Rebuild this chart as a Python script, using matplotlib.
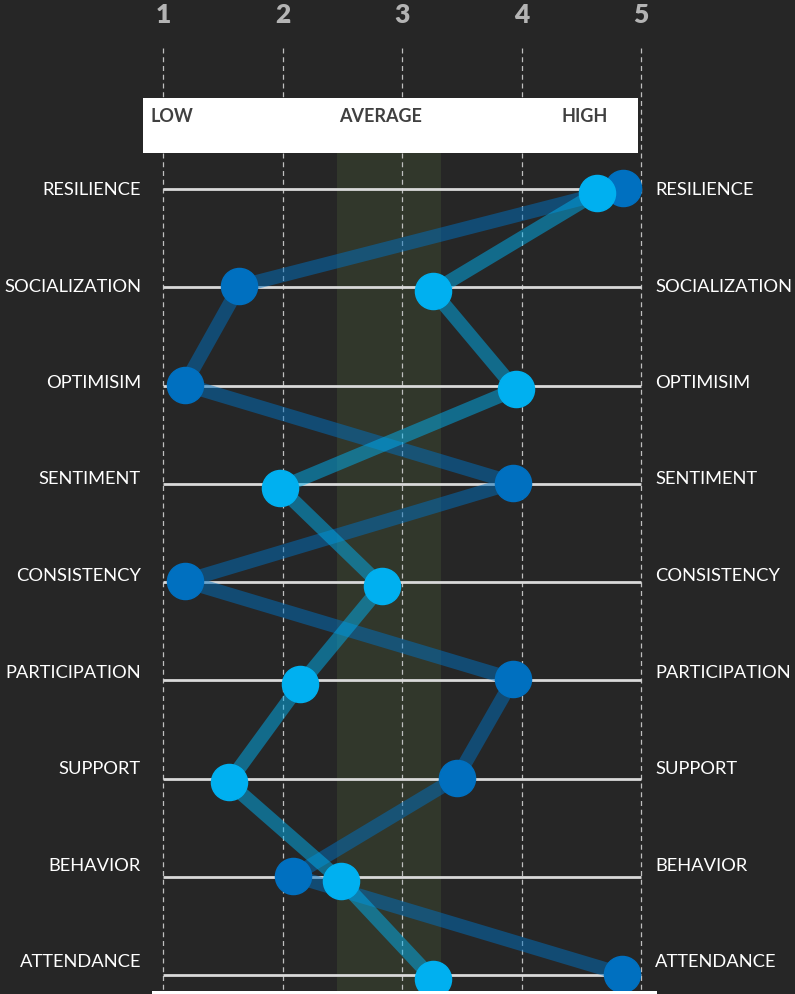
import matplotlib
matplotlib.use("Agg")
import matplotlib.pyplot as plt
from matplotlib.patches import Rectangle

categories = ["RESILIENCE", "SOCIALIZATION", "OPTIMISIM", "SENTIMENT", "CONSISTENCY",
              "PARTICIPATION", "SUPPORT", "BEHAVIOR", "ATTENDANCE"]
series_dark = [4.85, 1.64, 1.18, 3.93, 1.18, 3.93, 3.46, 2.09, 4.84]
series_light = [4.63, 3.26, 3.95, 1.98, 2.83, 2.15, 1.55, 2.49, 3.26]
scale_ticks = [1, 2, 3, 4, 5]
band_labels = ["LOW", "AVERAGE", "HIGH"]
avg_band = (2.46, 3.33)

BG = "#262626"
plt.rcParams['font.family'] = ['Lato', 'DejaVu Sans']

fig = plt.figure(figsize=(7.95, 9.94), dpi=100, facecolor=BG)
ax = fig.add_axes([0, 0, 1, 1])
ax.set_facecolor(BG)
px = 119.5
x0 = 1 - 163 / px
x1 = 1 + (795 - 163) / px
rs = 98.25
y_top = -189 / rs
y_bot = (994 - 189) / rs
ax.set_xlim(x0, x1)
ax.set_ylim(y_bot, y_top)
ax.axis("off")

def ypx(p):
    return (p - 189) / rs

def xpx(p):
    return 1 + (p - 163) / px

# average band
ax.add_patch(Rectangle((avg_band[0], ypx(153)), avg_band[1] - avg_band[0], y_bot - ypx(153),
                       facecolor="#31372b", edgecolor="none", zorder=0))

# vertical dashed grid
for t in scale_ticks:
    ax.plot([t, t], [ypx(48), y_bot], color="#bfbfbf", lw=0.9, ls=(0, (4, 3)), zorder=1)
    ax.text(t, ypx(15), str(t), color="#b4b4b4", fontsize=19, fontweight="heavy",
            ha="center", va="center", zorder=5)

# horizontal lines and labels (labels use a slightly tighter spacing than lines)
n = len(categories)
label_step = 96.5 / rs
for i, c in enumerate(categories):
    ax.plot([1, 5], [i, i], color="#d9d9d9", lw=2, zorder=2, solid_capstyle="butt")
    ly = ypx(190) + i * label_step
    ax.text(xpx(141), ly, c, color="white", fontsize=13.2, ha="right", va="center", zorder=5)
    ax.text(xpx(655), ly, c, color="white", fontsize=13.2, ha="left", va="center", zorder=5)

# white label box
ax.add_patch(Rectangle((xpx(143), ypx(98)), xpx(638) - xpx(143), ypx(153) - ypx(98),
                       facecolor="white", edgecolor="none", zorder=3))
ax.text(xpx(151), ypx(117), band_labels[0], color="#404040", fontsize=13, fontweight="bold",
        ha="left", va="center", zorder=6)
ax.text(xpx(381), ypx(117), band_labels[1], color="#404040", fontsize=13, fontweight="bold",
        ha="center", va="center", zorder=6)
ax.text(xpx(585), ypx(117), band_labels[2], color="#404040", fontsize=13, fontweight="bold",
        ha="center", va="center", zorder=6)

# bottom white strip
ax.add_patch(Rectangle((xpx(152), ypx(991)), xpx(657) - xpx(152), y_bot - ypx(991),
                       facecolor="white", edgecolor="none", zorder=6))

rows = list(range(n))
yd = [r - 0.01 for r in rows]
yl = [r + 0.04 for r in rows]
ax.plot(series_dark, yd, color="#0070C0", alpha=0.5, lw=10, zorder=3, solid_capstyle="butt")
ax.plot(series_light, yl, color="#00B0F0", alpha=0.5, lw=10, zorder=3, solid_capstyle="butt")
ax.plot(series_dark, yd, ls="none", marker="o", ms=26, mfc="#0070C0", mec="#0070C0", zorder=4)
ax.plot(series_light, yl, ls="none", marker="o", ms=26, mfc="#00B0F0", mec="#00B0F0", zorder=4.5)

fig.savefig("out.png", dpi=100, facecolor=BG)
